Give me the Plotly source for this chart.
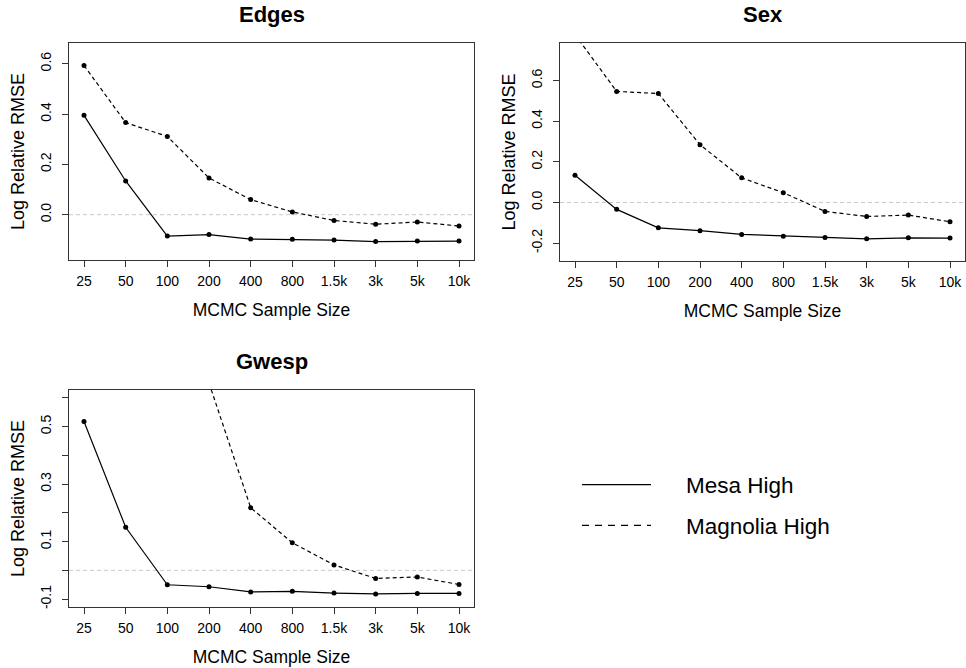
import plotly.graph_objects as go

# ---- data ----
sizes = ["25", "50", "100", "200", "400", "800", "1.5k", "3k", "5k", "10k"]

edges_mesa = [0.395, 0.134, -0.085, -0.079, -0.097, -0.098, -0.101, -0.107, -0.105, -0.105]
edges_magnolia = [0.593, 0.366, 0.311, 0.146, 0.060, 0.011, -0.023, -0.038, -0.029, -0.045]

sex_mesa = [0.134, -0.034, -0.125, -0.139, -0.157, -0.166, -0.172, -0.179, -0.174, -0.175]
sex_magnolia = [0.826, 0.546, 0.536, 0.284, 0.121, 0.048, -0.044, -0.069, -0.062, -0.095]

gwesp_mesa = [0.518, 0.150, -0.050, -0.057, -0.075, -0.073, -0.079, -0.082, -0.080, -0.080]
gwesp_magnolia = [None, None, None, 0.652, 0.218, 0.096, 0.019, -0.028, -0.023, -0.049]

panel_titles = ["Edges", "Sex", "Gwesp"]
series_names = ["Mesa High", "Magnolia High"]

edges_yticks = [0.0, 0.2, 0.4, 0.6]
edges_ylabels = ["0.0", "0.2", "0.4", "0.6"]
sex_yticks = [-0.2, 0.0, 0.2, 0.4, 0.6]
sex_ylabels = ["-0.2", "0.0", "0.2", "0.4", "0.6"]
gwesp_yticks = [-0.1, 0.0, 0.1, 0.2, 0.3, 0.4, 0.5, 0.6]
gwesp_ylabels = ["-0.1", "", "0.1", "", "0.3", "", "0.5", ""]

# ---- layout helpers (pixel -> paper) ----
W, H = 966, 668
def px(x):
    return x / W
def py(y):
    return (H - y) / H

FONT = "Liberation Sans, Arial, sans-serif"
BOX = "#333333"

fig = go.Figure()

panels = [
    dict(mesa=edges_mesa, mag=edges_magnolia, xa="x", ya="y",
         dom_x=(69, 474), dom_y=(43, 261), yr=(-0.181, 0.683),
         yt=edges_yticks, yl=edges_ylabels),
    dict(mesa=sex_mesa, mag=sex_magnolia, xa="x2", ya="y2",
         dom_x=(560, 965), dom_y=(43, 262), yr=(-0.289, 0.785),
         yt=sex_yticks, yl=sex_ylabels),
    dict(mesa=gwesp_mesa, mag=gwesp_magnolia, xa="x3", ya="y3",
         dom_x=(69, 474), dom_y=(391, 609), yr=(-0.128, 0.628),
         yt=gwesp_yticks, yl=gwesp_ylabels),
]

layout = dict(
    width=W, height=H,
    margin=dict(l=0, r=0, t=0, b=0),
    paper_bgcolor="white", plot_bgcolor="white",
    showlegend=False,
    font=dict(family=FONT, color="black"),
    shapes=[], annotations=[],
)

for i, p in enumerate(panels):
    fig.add_trace(go.Scatter(
        x=sizes, y=p["mesa"], mode="lines+markers", name=series_names[0],
        xaxis=p["xa"], yaxis=p["ya"],
        line=dict(color="black", width=1.2),
        marker=dict(color="black", size=5),
    ))
    fig.add_trace(go.Scatter(
        x=sizes, y=p["mag"], mode="lines+markers", name=series_names[1],
        xaxis=p["xa"], yaxis=p["ya"], connectgaps=False,
        line=dict(color="black", width=1.2, dash="4px,3px"),
        marker=dict(color="black", size=5),
    ))
    suffix = "" if i == 0 else str(i + 1)
    layout["xaxis" + suffix] = dict(
        domain=[px(p["dom_x"][0]), px(p["dom_x"][1])],
        anchor="y" + suffix, type="category",
        range=[-0.36, 9.36],
        categoryorder="array", categoryarray=sizes,
        tickmode="array", tickvals=sizes, ticktext=sizes,
        ticks="outside", ticklen=6, tickcolor=BOX, tickwidth=1,
        ticklabelstandoff=2,
        tickfont=dict(size=14, family=FONT, color="black"),
        showline=True, mirror=True, linecolor=BOX, linewidth=1,
        showgrid=False, zeroline=False,
        title=dict(text="MCMC Sample Size", font=dict(size=17.5, family=FONT, color="black"),
                   standoff=15),
        fixedrange=True,
    )
    layout["yaxis" + suffix] = dict(
        domain=[py(p["dom_y"][1]), py(p["dom_y"][0])],
        anchor="x" + suffix,
        range=list(p["yr"]),
        tickmode="array", tickvals=p["yt"], ticktext=p["yl"],
        tickangle=-90,
        ticks="outside", ticklen=6, tickcolor=BOX, tickwidth=1,
        ticklabelstandoff=5,
        tickfont=dict(size=14, family=FONT, color="black"),
        showline=True, mirror=True, linecolor=BOX, linewidth=1,
        showgrid=False, zeroline=False,
        title=dict(text="Log Relative RMSE", font=dict(size=18, family=FONT, color="black"),
                   standoff=9),
        fixedrange=True,
    )
    # reference line at zero
    layout["shapes"].append(dict(
        type="line", xref=p["xa"] + " domain", yref=p["ya"],
        x0=0, x1=1, y0=0, y1=0,
        line=dict(color="#c8c8c8", width=1, dash="4px,3px"), layer="below",
    ))
    # panel title
    cx = (p["dom_x"][0] + p["dom_x"][1]) / 2
    layout["annotations"].append(dict(
        text="<b>%s</b>" % panel_titles[i], xref="paper", yref="paper",
        x=px(cx), y=py(p["dom_y"][0] - 28), xanchor="center", yanchor="middle",
        showarrow=False, font=dict(size=22, family=FONT, color="black"),
    ))

# ---- legend (drawn manually, R style) ----
leg = [(series_names[0], "solid", 486), (series_names[1], "7px,6px", 527)]
for name, dash, y in leg:
    layout["shapes"].append(dict(
        type="line", xref="paper", yref="paper",
        x0=px(582), x1=px(651), y0=py(y), y1=py(y),
        line=dict(color="black", width=1.3, dash=dash),
    ))
    layout["annotations"].append(dict(
        text=name, xref="paper", yref="paper",
        x=px(684), y=py(y + 1), xanchor="left", yanchor="middle",
        showarrow=False, font=dict(size=22.5, family=FONT, color="black"),
    ))

fig.update_layout(**layout)
fig.write_html(
    "out.html",
    config={"displayModeBar": False},
    post_script="document.body.style.margin='0';document.body.style.padding='0';"
                "document.documentElement.style.overflow='hidden';",
)
